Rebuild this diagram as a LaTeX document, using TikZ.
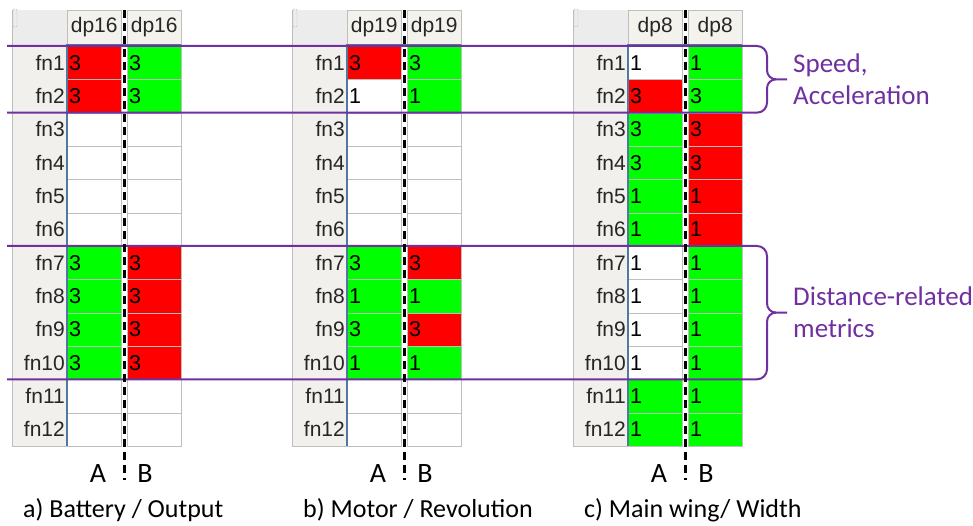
\documentclass[tikz,border=0pt]{standalone}
\usepackage{fontspec}
\setmainfont{Carlito}
\newfontfamily\gridfont{Liberation Sans}
\usetikzlibrary{math}
\definecolor{hitred}{HTML}{FF0000}
\definecolor{hitgreen}{HTML}{00FF00}
\definecolor{metricpurple}{HTML}{7030A0}
\definecolor{gridgray}{HTML}{BEBEBE}
\definecolor{panelgray}{HTML}{F1F0EC}
\definecolor{cornergray}{HTML}{ECECEC}
\definecolor{headbeige}{HTML}{F4F2EC}
\definecolor{rulerblue}{HTML}{52789F}

\begin{document}
\begin{tikzpicture}[x=1pt,y=-1pt,
    cell/.style={draw=gridgray,anchor=north west,inner xsep=2pt,inner ysep=0pt,text width=50pt,minimum height=33.33pt,align=left,font=\gridfont\fontsize{21.5pt}{21.5pt}\selectfont},
    headcell/.style={draw=gridgray,fill=headbeige,anchor=north west,inner sep=0pt,minimum width=54pt,minimum height=34pt,text=black!85,font=\gridfont\fontsize{21pt}{21pt}\selectfont},
    rowlabel/.style={anchor=east,inner sep=0pt,text=black!85,font=\gridfont\fontsize{21pt}{21pt}\selectfont},
    axislabel/.style={inner sep=0pt,font=\fontsize{28pt}{28pt}\selectfont},
    caption/.style={anchor=west,inner sep=0pt,font=\fontsize{26pt}{26pt}\selectfont},
    metric/.style={anchor=west,inner sep=0pt,align=left,text=metricpurple,font=\fontsize{27pt}{32pt}\selectfont},
    band/.style={metricpurple,line width=2pt},
    splitline/.style={line width=3pt,dash pattern=on 8pt off 5pt}]
  \tikzmath{
    function rowtop(\i) {
      return {46+(\i-1)*33.33};
    };
  }
  \useasboundingbox[fill=white] (0,0) rectangle (973,526);

  \foreach \tab/\off/\hdr/\capt/\colA/\colB in {
    a/0/dp16/{a) Battery / Output}/{hitred/3,hitred/3,white/{},white/{},white/{},white/{},hitgreen/3,hitgreen/3,hitgreen/3,hitgreen/3,white/{},white/{}}/{hitgreen/3,hitgreen/3,white/{},white/{},white/{},white/{},hitred/3,hitred/3,hitred/3,hitred/3,white/{},white/{}},
    b/280/dp19/{b) Motor / Revolution}/{hitred/3,white/1,white/{},white/{},white/{},white/{},hitgreen/3,hitgreen/1,hitgreen/3,hitgreen/1,white/{},white/{}}/{hitgreen/3,hitgreen/1,white/{},white/{},white/{},white/{},hitred/3,hitgreen/1,hitred/3,hitgreen/1,white/{},white/{}},
    c/561/dp8/{c) Main wing/ Width}/{white/1,hitred/3,hitgreen/3,hitgreen/3,hitgreen/1,hitgreen/1,white/1,white/1,white/1,white/1,hitgreen/1,hitgreen/1}/{hitgreen/1,hitgreen/3,hitred/3,hitred/3,hitred/1,hitred/1,hitgreen/1,hitgreen/1,hitgreen/1,hitgreen/1,hitgreen/1,hitgreen/1}} {
    \fill[panelgray] (\off+12,10) rectangle (\off+67,446);
    \fill[cornergray] (\off+12,10) rectangle (\off+67,44);
    \draw[gridgray] (\off+12.5,10) -- (\off+12.5,446) -- (\off+67,446);
    \draw[gridgray,rounded corners=1pt] (\off+13,9) rectangle (\off+17,27);
    \node[headcell] (\tab-hA) at (\off+67,10) {\hdr};
    \node[headcell] (\tab-hB) at (\off+127,10) {\hdr};
    \foreach[count=\r,evaluate={\y=rowtop(\r);}] \f/\v in \colA {
      \node[cell,fill=\f] (\tab-A\r) at (\off+67,\y) {\v};
    }
    \foreach[count=\r,evaluate={\y=rowtop(\r);}] \f/\v in \colB {
      \node[cell,fill=\f] (\tab-B\r) at (\off+127,\y) {\v};
    }
    \foreach[evaluate={\y=rowtop(\r)+16.7;}] \r in {1,...,12} {
      \node[rowlabel] (\tab-fn\r) at (\off+65,\y) {fn\r};
    }
    \draw[rulerblue,line width=1.5pt] (\tab-hA.south west) -- (\tab-hB.south east);
    \draw[rulerblue,line width=1.5pt] (\tab-hA.south west) -- (\tab-A12.south west);
    \node[axislabel] (\tab-labA) at (\off+98,474) {A};
    \node[axislabel] (\tab-labB) at (\off+145,474) {B};
    \node[caption] (\tab-cap) at (\off+23,510) {\capt};
  }

  \foreach \toprow/\botrow/\midy/\groupname/\txt in {1/3/79.3/speed/{Speed,\\Acceleration},7/11/312.6/distance/{Distance-related\\metrics}} {
    \draw[band] (7,{rowtop(\toprow)}) -- (757,{rowtop(\toprow)}) to[out=0,in=90] (767,{rowtop(\toprow)+10}) -- (767,\midy-9) to[out=-90,in=180] (776,\midy) -- (787,\midy);
    \draw[band] (7,{rowtop(\botrow)}) -- (757,{rowtop(\botrow)}) to[out=0,in=-90] (767,{rowtop(\botrow)-10}) -- (767,\midy+9) to[out=90,in=180] (776,\midy);
    \node[metric] (\groupname) at (793,\midy) {\txt};
  }

  \foreach \off in {0,280,561} {
    \draw[splitline] (\off+124,10) -- (\off+124,480);
  }
\end{tikzpicture}
\end{document}
